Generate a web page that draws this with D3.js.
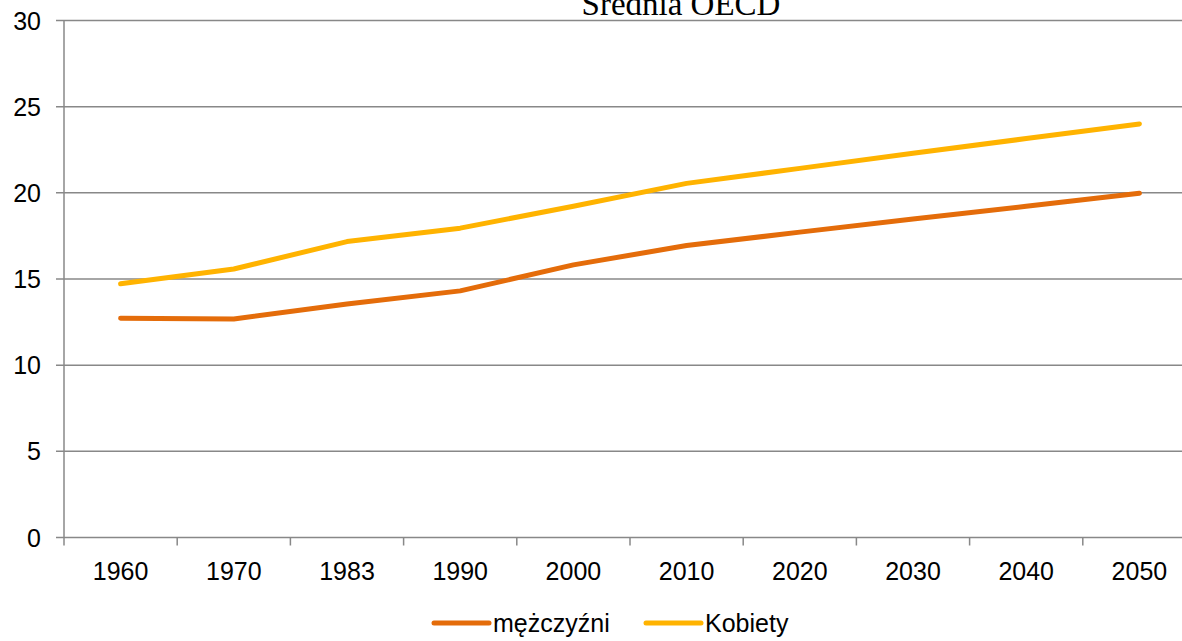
<!DOCTYPE html>
<meta charset="utf-8">
<html>
<head>
<title>Srednia OECD</title>
<script src="https://cdnjs.cloudflare.com/ajax/libs/d3/7.8.5/d3.min.js"></script>
<style>
body { margin: 0; background: #fff; }
svg text { font-family: "Liberation Sans", Arial, sans-serif; fill: #000; }
.title { font-family: "Liberation Serif", "Times New Roman", serif; }
</style>
</head>
<body>
<svg id="chart" width="1182" height="641"></svg>
<script>
// values
var years = ["1960", "1970", "1983", "1990", "2000", "2010", "2020", "2030", "2040", "2050"];
var men = [12.72, 12.68, 13.55, 14.31, 15.82, 16.94, 17.72, 18.48, 19.22, 19.97];
var women = [14.72, 15.58, 17.17, 17.95, 19.22, 20.55, 21.42, 22.3, 23.15, 24.0];
var yTicks = [0, 5, 10, 15, 20, 25, 30];
var seriesNames = ["mężczyźni", "Kobiety"];
var seriesColors = ["#E46C0A", "#FFB300"];

var svg = d3.select("#chart");
var gridColor = "#888888";

var x = d3.scaleBand().domain(years).range([64, 1196]);
var y = d3.scaleLinear().domain([0, 30]).range([537.5, 20.5]);

// gridlines
svg.append("g").selectAll("line")
    .data(yTicks)
    .enter().append("line")
    .attr("x1", 56).attr("x2", 1196)
    .attr("y1", function (d) { return y(d); })
    .attr("y2", function (d) { return y(d); })
    .style("stroke", gridColor)
    .style("stroke-width", 1.5);

// y axis line
svg.append("line")
    .attr("x1", 64).attr("x2", 64)
    .attr("y1", y(30)).attr("y2", y(0))
    .style("stroke", gridColor).style("stroke-width", 1.5);

// x ticks at band edges
var edges = years.map(function (d) { return x(d); });
svg.append("g").selectAll("line")
    .data(edges)
    .enter().append("line")
    .attr("x1", function (d) { return d; })
    .attr("x2", function (d) { return d; })
    .attr("y1", y(0)).attr("y2", y(0) + 8)
    .style("stroke", gridColor).style("stroke-width", 1.5);

// y labels
svg.append("g").selectAll("text")
    .data(yTicks)
    .enter().append("text")
    .attr("x", 41)
    .attr("y", function (d) { return y(d) + 9; })
    .style("text-anchor", "end")
    .style("font-size", "25px")
    .text(function (d) { return d; });

// x labels
svg.append("g").selectAll("text")
    .data(years)
    .enter().append("text")
    .attr("x", function (d) { return x(d) + x.bandwidth() / 2; })
    .attr("y", 580)
    .style("text-anchor", "middle")
    .style("font-size", "25px")
    .text(function (d) { return d; });

// lines
var line = d3.line()
    .x(function (d, i) { return x(years[i]) + x.bandwidth() / 2; })
    .y(function (d) { return y(d); });

[men, women].forEach(function (s, i) {
    svg.append("path")
        .attr("d", line(s))
        .style("fill", "none")
        .style("stroke", seriesColors[i])
        .style("stroke-width", 5)
        .style("stroke-linecap", "round")
        .style("stroke-linejoin", "round");
});

// title
svg.append("text")
    .attr("class", "title")
    .attr("x", 681)
    .attr("y", 15)
    .style("text-anchor", "middle")
    .style("font-size", "33px")
    .text("Średnia OECD");

// legend
var legendX = [434, 646];
seriesNames.forEach(function (n, i) {
    svg.append("line")
        .attr("x1", legendX[i]).attr("x2", legendX[i] + 55)
        .attr("y1", 623).attr("y2", 623)
        .style("stroke", seriesColors[i])
        .style("stroke-width", 5)
        .style("stroke-linecap", "round");
    svg.append("text")
        .attr("x", legendX[i] + 59)
        .attr("y", 632)
        .style("font-size", "25px")
        .text(n);
});
</script>
</body>
</html>
